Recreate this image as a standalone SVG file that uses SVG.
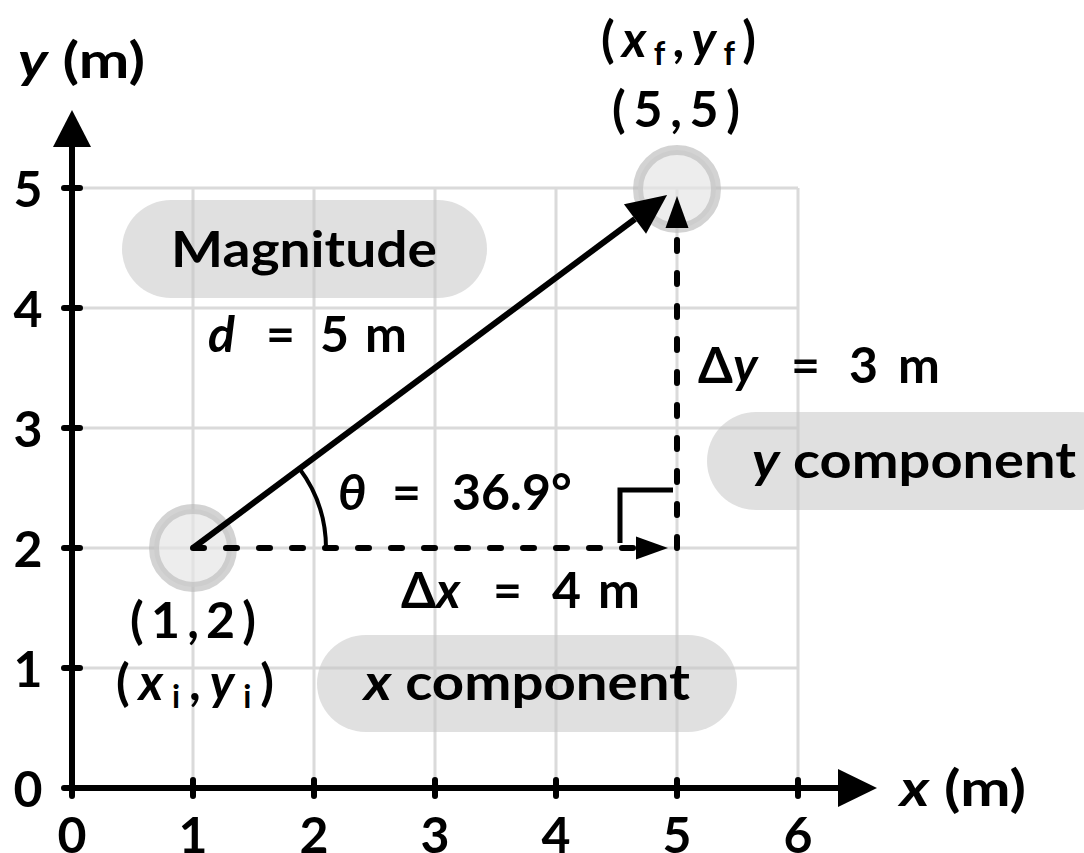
<svg xmlns="http://www.w3.org/2000/svg" width="1084" height="853" viewBox="0 0 1084 853">
<style>
.grid{stroke:#dadada;stroke-width:3;fill:none}
.axis{stroke:#000;stroke-width:6;fill:none}
.tick{stroke:#000;stroke-width:6;stroke-linecap:round}
.pill{fill:#c6c6c6;fill-opacity:0.55}
.pt{fill:#e6e6e6;fill-opacity:0.7;stroke:#bcbcbc;stroke-opacity:0.65;stroke-width:10}
.t{font-family:Lato,"Liberation Sans",sans-serif;font-weight:700;font-size:50px;fill:#000}
.m{text-anchor:middle}
.i{font-style:italic}
.sub{font-size:32px;fill:#000}
.dash{stroke:#000;stroke-width:6;stroke-linecap:round;stroke-dasharray:11 22;fill:none}
</style>
<defs>
<marker id="big" markerUnits="userSpaceOnUse" markerWidth="42" markerHeight="40" refX="0" refY="19" orient="auto" overflow="visible">
<path d="M0,0.5 L40,19 L0,37.5 z" fill="#000"/>
</marker>
<marker id="small" markerUnits="userSpaceOnUse" markerWidth="34" markerHeight="26" refX="0" refY="12" orient="auto" overflow="visible">
<path d="M0,0.5 L32,12 L0,23.5 z" fill="#000"/>
</marker>
</defs>
<rect width="1084" height="853" fill="#fff"/>
<g id="grid">
<path class="grid" d="M72,188H798M72,308H798M72,428H798M72,548H798M72,668H798M193,188V788M314,188V788M435,188V788M556,188V788M677,188V788M798,188V788"/>
</g>
<g id="pills">
<g id="magnitude"><rect class="pill" x="122" y="200" width="365" height="98" rx="49"/><text class="t m" x="304" y="267" textLength="266" lengthAdjust="spacingAndGlyphs">Magnitude</text></g>
<g id="ycomp"><rect class="pill" x="707" y="412" width="420" height="98" rx="49"/><text class="t" x="752" y="478" textLength="324" lengthAdjust="spacingAndGlyphs"><tspan class="i">y</tspan> component</text></g>
<g id="xcomp"><rect class="pill" x="317" y="635" width="420" height="97" rx="48.5"/><text class="t" x="364" y="700" textLength="326" lengthAdjust="spacingAndGlyphs"><tspan class="i">x</tspan> component</text></g>
</g>
<g id="points">
<circle id="start" class="pt" cx="193" cy="548" r="39"/>
<circle id="end" class="pt" cx="677" cy="189" r="39"/>
</g>
<g id="axes">
<path class="axis" d="M72,796V146"/>
<path d="M53,147L72,110L91,147z" fill="#000"/>
<path class="axis" d="M65,788H840"/>
<path d="M838,769L877,788L838,807z" fill="#000"/>
<path class="tick" d="M64,188H80M64,308H80M64,428H80M64,548H80M64,668H80M64,788H80M193,780V796M314,780V796M435,780V796M556,780V796M677,780V796M798,780V796M72,780V796"/>
</g>
<g id="connectors">
<line x1="193" y1="548" x2="635" y2="219" stroke="#000" stroke-width="6" marker-end="url(#big)"/>
<path class="dash" d="M193,548H636" marker-end="url(#small)"/>
<path class="dash" d="M677,548V228" marker-end="url(#small)"/>
<path d="M326,548A133,133 0 0 0 299,468" fill="none" stroke="#000" stroke-width="4"/>
<path d="M620,543V490H673" fill="none" stroke="#000" stroke-width="5"/>
</g>
<g id="labels">
<text class="t" x="18" y="78" textLength="127" lengthAdjust="spacingAndGlyphs"><tspan class="i">y</tspan> (m)</text>
<text class="t" x="900" y="806" textLength="126" lengthAdjust="spacingAndGlyphs"><tspan class="i">x</tspan> (m)</text>
<text class="t m" x="28" y="207">5</text>
<text class="t m" x="28" y="327">4</text>
<text class="t m" x="28" y="447">3</text>
<text class="t m" x="28" y="567">2</text>
<text class="t m" x="28" y="687">1</text>
<text class="t m" x="28" y="807">0</text>
<text class="t m" x="72" y="853">0</text>
<text class="t m" x="193" y="853">1</text>
<text class="t m" x="314" y="853">2</text>
<text class="t m" x="435" y="853">3</text>
<text class="t m" x="556" y="853">4</text>
<text class="t m" x="677" y="853">5</text>
<text class="t m" x="798" y="853">6</text>
<text class="t" x="601" y="57" textLength="155" lengthAdjust="spacing">(<tspan class="i">x</tspan><tspan class="sub" dy="8">f</tspan><tspan dy="-8">,</tspan><tspan class="i">y</tspan><tspan class="sub" dy="8">f</tspan><tspan dy="-8">)</tspan></text>
<text class="t" x="612" y="127" textLength="128" lengthAdjust="spacing">(5,5)</text>
<text class="t" x="130" y="638" textLength="126" lengthAdjust="spacing">(1,2)</text>
<text class="t" x="116" y="700" textLength="158" lengthAdjust="spacing">(<tspan class="i">x</tspan><tspan class="sub" dy="8">i</tspan><tspan dy="-8">,</tspan><tspan class="i">y</tspan><tspan class="sub" dy="8">i</tspan><tspan dy="-8">)</tspan></text>
<text class="t"><tspan class="i" x="208" y="352">d</tspan><tspan x="266" y="352">=</tspan><tspan x="320" y="352">5</tspan><tspan x="365" y="352">m</tspan></text>
<text class="t"><tspan class="i" x="338" y="510">θ</tspan><tspan x="392" y="510">=</tspan><tspan x="452" y="510">36.9°</tspan></text>
<text class="t"><tspan x="401" y="608">Δ<tspan class="i">x</tspan></tspan><tspan x="493" y="608">=</tspan><tspan x="552" y="608">4</tspan><tspan x="598" y="608">m</tspan></text>
<text class="t"><tspan x="698" y="383">Δ<tspan class="i">y</tspan></tspan><tspan x="791" y="383">=</tspan><tspan x="849" y="383">3</tspan><tspan x="898" y="383">m</tspan></text>
</g>
</svg>
